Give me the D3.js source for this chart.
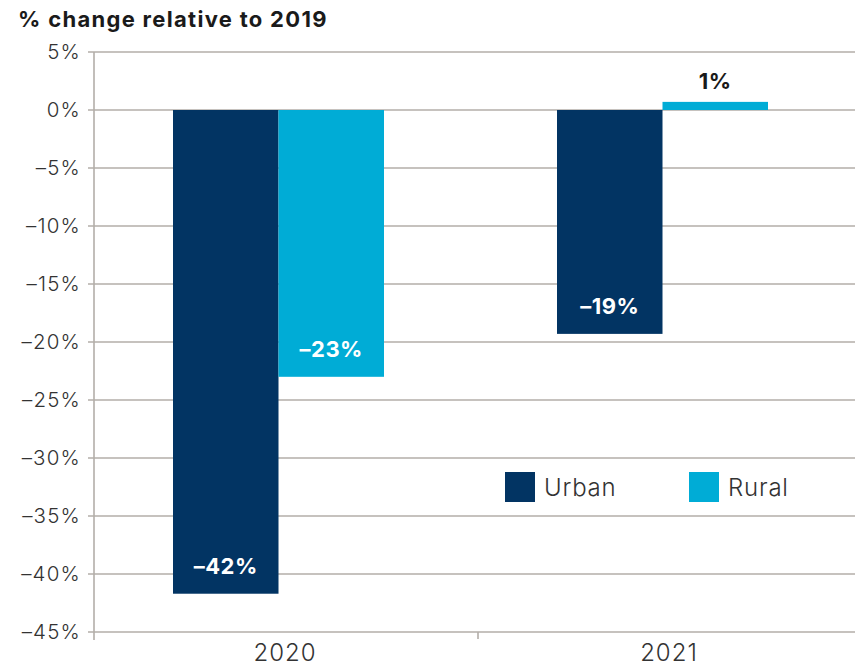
<!DOCTYPE html>
<html>
<head>
<meta charset="utf-8">
<script src="https://cdn.jsdelivr.net/npm/d3@7"></script>
<style>
  html, body { margin: 0; padding: 0; background: #fff; }
  svg { display: block; font-family: Inter, "Open Sans", sans-serif; }
</style>
</head>
<body>
<svg id="chart" width="855" height="667"></svg>
<script>
// Change in trips relative to 2019, by year and area type (percent)
const years = ["2020", "2021"];
const seriesNames = ["Urban", "Rural"];
const urbanValues = [-41.7, -19.3];
const ruralValues = [-23.0, 0.7];
const yTicks = [5, 0, -5, -10, -15, -20, -25, -30, -35, -40, -45];
const colors = ["#023463", "#00acd6"];

const svg = d3.select("#chart");
const grid = "#b3aea9";

const y = d3.scaleLinear().domain([-45, 5]).range([632, 52]);
const x0 = d3.scaleBand().domain(years).range([94, 862]);
const inner = d3.scaleBand().domain(seriesNames).range([79, 290]);

// Title
svg.append("text")
  .attr("x", 18).attr("y", 27)
  .attr("font-size", 22).attr("font-weight", 700).attr("fill", "#1a1a1a")
  .attr("letter-spacing", 1.3)
  .text("% change relative to 2019");

// Gridlines
svg.append("g").selectAll("line").data(yTicks).join("line")
  .attr("x1", 88).attr("x2", 855)
  .attr("y1", d => y(d)).attr("y2", d => y(d))
  .attr("stroke", grid).attr("stroke-width", 1.6);

// Y axis labels
svg.append("g").selectAll("text").data(yTicks).join("text")
  .attr("x", 81).attr("y", d => y(d))
  .attr("dy", "0.36em")
  .attr("text-anchor", "end")
  .attr("font-size", 20.5).attr("font-weight", 300).attr("fill", "#333")
  .attr("letter-spacing", 1.2)
  .text(d => (d < 0 ? "\u2013" + Math.abs(d) : d) + "%");

// Y axis line
svg.append("line")
  .attr("x1", 94).attr("x2", 94).attr("y1", 52).attr("y2", 640)
  .attr("stroke", grid).attr("stroke-width", 1.6);

// Category separator tick
svg.append("line")
  .attr("x1", x0("2021")).attr("x2", x0("2021"))
  .attr("y1", 632).attr("y2", 639)
  .attr("stroke", grid).attr("stroke-width", 1.6);

// X labels
svg.append("g").selectAll("text").data(years).join("text")
  .attr("x", d => x0(d) + x0.bandwidth() / 2 - 1)
  .attr("y", 661)
  .attr("text-anchor", "middle")
  .attr("font-size", 24).attr("font-weight", 300).attr("fill", "#333")
  .attr("letter-spacing", 1)
  .text(d => d);

// Bars
const rows = years.map((yr, i) => ({
  year: yr,
  values: [
    { name: "Urban", value: urbanValues[i], color: colors[0] },
    { name: "Rural", value: ruralValues[i], color: colors[1] }
  ]
}));

const groups = svg.append("g").selectAll("g").data(rows).join("g")
  .attr("transform", d => `translate(${x0(d.year)},0)`);

groups.selectAll("rect").data(d => d.values).join("rect")
  .attr("x", d => inner(d.name))
  .attr("width", inner.bandwidth())
  .attr("y", d => y(Math.max(0, d.value)))
  .attr("height", d => Math.abs(y(d.value) - y(0)))
  .attr("fill", d => d.color);

const fmt = v => {
  const r = Math.round(v);
  return (r < 0 ? "\u2013" + Math.abs(r) : r) + "%";
};

groups.selectAll("text.val").data(d => d.values).join("text")
  .attr("class", "val")
  .attr("x", d => inner(d.name) + inner.bandwidth() / 2)
  .attr("y", d => d.value < 0 ? y(d.value) - 20 : y(d.value) - 13)
  .attr("text-anchor", "middle")
  .attr("font-size", 22).attr("font-weight", 700)
  .attr("letter-spacing", 0.5)
  .attr("fill", d => d.value < 0 ? "#fff" : "#1a1a1a")
  .text(d => fmt(d.value));

// Legend
const legend = svg.append("g").selectAll("g").data(seriesNames).join("g")
  .attr("transform", (d, i) => `translate(${505 + i * 184},472)`);
legend.append("rect")
  .attr("width", 30).attr("height", 30)
  .attr("fill", (d, i) => colors[i]);
legend.append("text")
  .attr("x", 39).attr("y", 24)
  .attr("font-size", 24).attr("font-weight", 300).attr("fill", "#333")
  .attr("letter-spacing", 0.8)
  .text(d => d);
</script>
</body>
</html>
